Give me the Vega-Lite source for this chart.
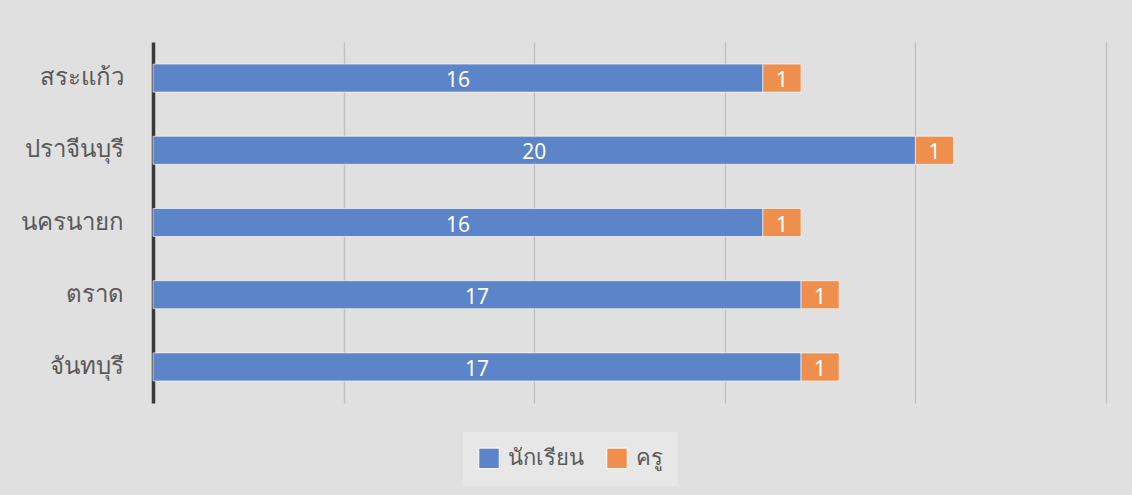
{
  "$schema": "https://vega.github.io/schema/vega-lite/v6.json",
  "autosize": "none",
  "width": 953,
  "height": 361,
  "padding": {"left": 153, "top": 42, "right": 26, "bottom": 92},
  "background": "#e0e0e0",
  "config": {"view": {"stroke": null}, "font": "Noto Sans"},
  "data": {"values": [
    {"province": "สระแก้ว", "series": "นักเรียน", "k": 1, "value": 16},
    {"province": "สระแก้ว", "series": "ครู", "k": 2, "value": 1},
    {"province": "ปราจีนบุรี", "series": "นักเรียน", "k": 1, "value": 20},
    {"province": "ปราจีนบุรี", "series": "ครู", "k": 2, "value": 1},
    {"province": "นครนายก", "series": "นักเรียน", "k": 1, "value": 16},
    {"province": "นครนายก", "series": "ครู", "k": 2, "value": 1},
    {"province": "ตราด", "series": "นักเรียน", "k": 1, "value": 17},
    {"province": "ตราด", "series": "ครู", "k": 2, "value": 1},
    {"province": "จันทบุรี", "series": "นักเรียน", "k": 1, "value": 17},
    {"province": "จันทบุรี", "series": "ครู", "k": 2, "value": 1}
  ]},
  "encoding": {
    "y": {
      "field": "province",
      "type": "nominal",
      "sort": ["สระแก้ว", "ปราจีนบุรี", "นครนายก", "ตราด", "จันทบุรี"],
      "scale": {"paddingInner": 0.612, "paddingOuter": 0.306},
      "axis": {
        "title": null,
        "ticks": false,
        "grid": false,
        "domainColor": "#3a3a3a",
        "domainWidth": 3.5,
        "labelFontSize": 24,
        "labelColor": "#595959",
        "labelPadding": 30
      }
    }
  },
  "layer": [
    {
      "mark": {"type": "bar", "stroke": "#ffffff", "strokeOpacity": 0.6, "strokeWidth": 1},
      "encoding": {
        "x": {
          "field": "value",
          "type": "quantitative",
          "stack": "zero",
          "scale": {"domain": [0, 25], "nice": false},
          "axis": {
            "title": null,
            "labels": false,
            "ticks": false,
            "domain": false,
            "grid": true,
            "values": [0, 5, 10, 15, 20, 25],
            "gridColor": "#bfbfbf",
            "gridWidth": 1.3
          }
        },
        "order": {"field": "k", "type": "quantitative"},
        "color": {
          "field": "series",
          "type": "nominal",
          "scale": {"domain": ["นักเรียน", "ครู"], "range": ["#5b84c9", "#ee8f4e"]},
          "legend": {
            "title": null,
            "orient": "none",
            "legendX": 310,
            "legendY": 390,
            "direction": "horizontal",
            "fillColor": "#e7e7e7",
            "padding": 15,
            "symbolType": "square",
            "symbolSize": 420,
            "symbolStrokeColor": "#ffffff",
            "symbolStrokeWidth": 1,
            "labelFontSize": 22,
            "labelColor": "#595959",
            "labelOffset": 8,
            "columnPadding": 20
          }
        }
      }
    },
    {
      "transform": [
        {"stack": "value", "groupby": ["province"], "sort": [{"field": "k", "order": "ascending"}], "as": ["v0", "v1"]},
        {"fold": ["v0", "v1"], "as": ["edge", "pos"]},
        {"aggregate": [{"op": "mean", "field": "pos", "as": "mid"}, {"op": "max", "field": "value", "as": "value"}], "groupby": ["province", "series"]}
      ],
      "mark": {"type": "text", "color": "#ffffff", "fontSize": 21, "baseline": "middle", "dy": 3},
      "encoding": {
        "x": {"field": "mid", "type": "quantitative"},
        "text": {"field": "value", "type": "quantitative"}
      }
    }
  ]
}
